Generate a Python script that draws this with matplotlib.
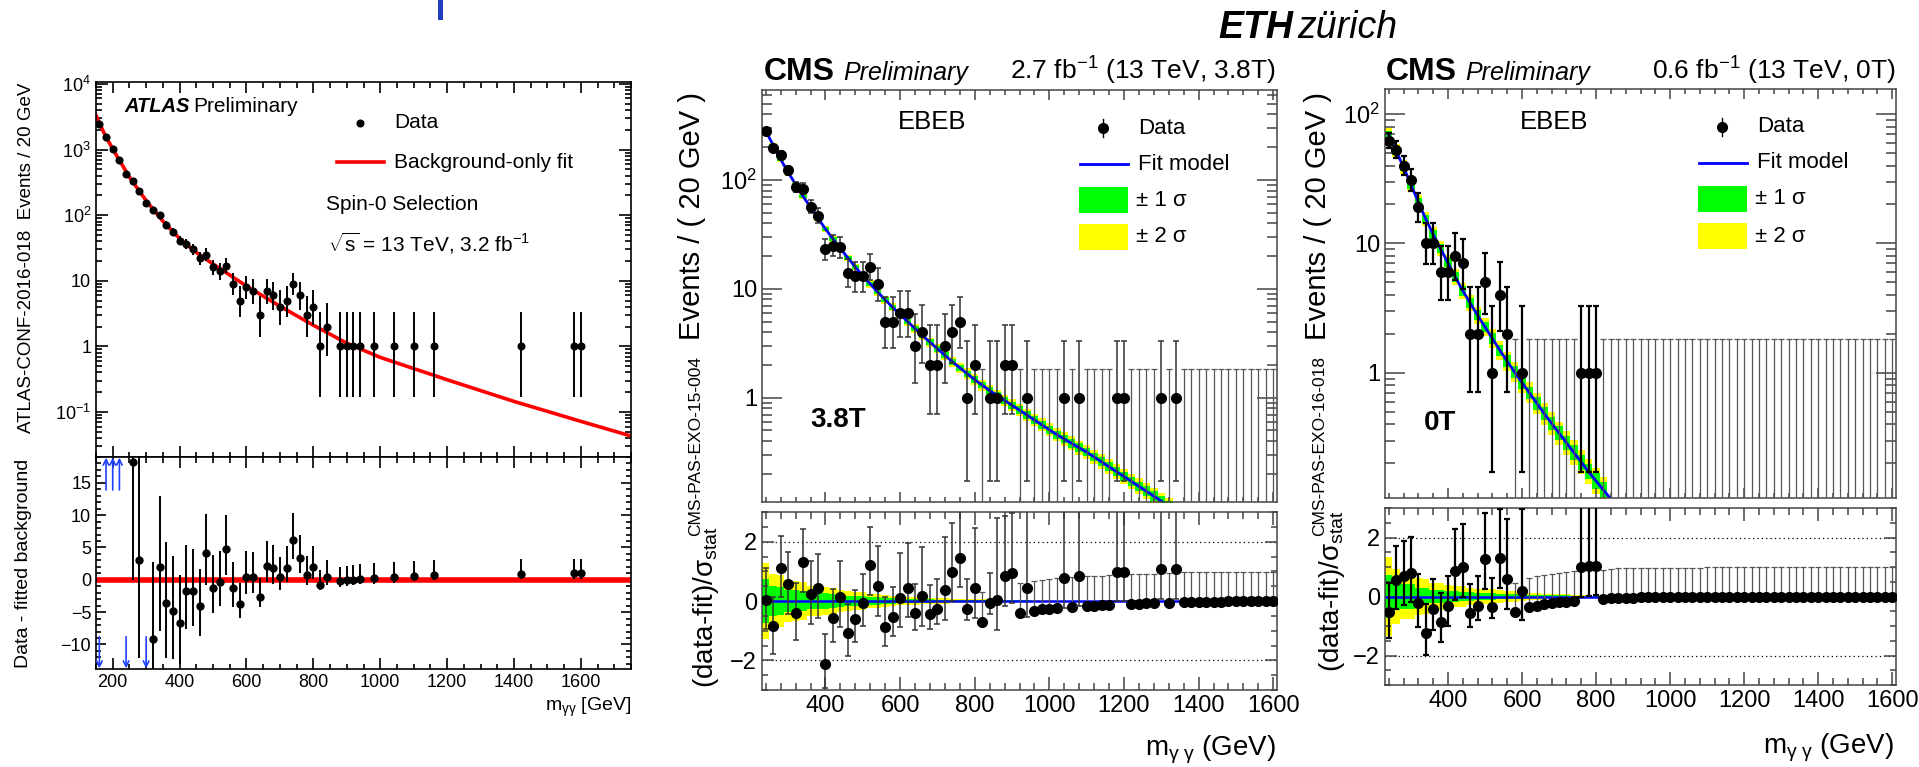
import numpy as np
import matplotlib
matplotlib.use('Agg')
import matplotlib.pyplot as plt
from matplotlib.ticker import MultipleLocator, LogLocator, FuncFormatter, NullFormatter
from matplotlib.patches import Rectangle

W, H = 1919, 767

plt.rcParams['font.family'] = ['Liberation Sans', 'DejaVu Sans']
plt.rcParams['mathtext.fontset'] = 'custom'
plt.rcParams['mathtext.rm'] = 'Liberation Sans'
plt.rcParams['mathtext.it'] = 'Liberation Sans:italic'
plt.rcParams['mathtext.bf'] = 'Liberation Sans:bold'
plt.rcParams['mathtext.default'] = 'regular'

YEL, GRN, BLUE, RED = '#ffff00', '#00ff00', '#0000ff', '#ff0000'

# ---------------- ATLAS (left) ----------------
atlas_x = [160, 180, 200, 220, 240, 260, 280, 300, 320, 340, 360, 380, 400, 420, 440,
           460, 480, 500, 520, 540, 560, 580, 600, 620, 640, 660, 680, 700, 720, 740,
           760, 780, 800, 820, 840, 880, 900, 920, 940, 980, 1040, 1100, 1160, 1420,
           1580, 1600]
atlas_n = [2450, 1540, 1020, 700, 425, 330, 230, 155, 118, 99, 72, 55, 41, 36, 30,
           22, 25, 16, 14, 17, 9, 5, 8, 7, 3, 7, 6, 4, 5, 9,
           6, 3, 4, 1, 2, 1, 1, 1, 1, 1, 1, 1, 1, 1,
           1, 1]
atlas_fit_x = [150, 175, 200, 250, 300, 350, 400, 450, 500, 600, 700, 800, 900, 1000,
               1200, 1400, 1600, 1750]
atlas_fit_y = [3310, 1740, 1020, 380, 166, 81, 44, 27, 18, 8.3, 4.1, 2.1, 1.12, 0.68,
               0.31, 0.145, 0.072, 0.043]
atlas_resid_x = [260, 280, 320, 340, 360, 380, 400, 420, 440, 460, 480, 500, 520, 540,
                 560, 580, 600, 620, 640, 660, 680, 700, 720, 740, 760, 780, 800, 820,
                 840, 880, 900, 920, 940, 980, 1040, 1100, 1160, 1420, 1580, 1600]
atlas_resid = [18.2, 3.0, -9.1, 2.0, -3.6, -4.8, -6.7, -1.7, -1.7, -4.1, 4.1, -1.2, -0.4, 4.8,
               -1.3, -3.8, 0.5, 0.5, -2.6, 2.2, 1.8, 0.4, 1.8, 6.2, 3.4, 0.8, 2.0, -0.8,
               0.5, -0.25, -0.1, 0.0, 0.15, 0.25, 0.4, 0.6, 0.8, 0.9, 1.0, 1.0]
atlas_up = [180, 200, 220]
atlas_down = [160, 240, 300]

# ---------------- CMS (bins of 20 GeV, 230-1610) ----------------
cms_x = np.arange(240, 1601, 20)

n38 = [283, 195, 170, 123, 86, 83, 57, 47, 23, 25,
       24, 14, 13, 13, 16, 11, 5, 5, 6, 6,
       3, 4, 2, 2, 3, 4, 5, 1, 2, 0,
       1, 1, 2, 2, 0, 1, 0, 0, 0, 0,
       1, 0, 1, 0, 0, 0, 0, 1, 1, 0,
       0, 0, 0, 1, 0, 1, 0, 0, 0, 0,
       0, 0, 0, 0, 0, 0, 0, 0, 0]
pull38 = [0.05, -0.85, 1.12, 0.56, -0.40, 1.31, 0.22, 0.43, -2.12, -0.58,
          0.12, -1.09, -0.62, -0.08, 1.21, 0.50, -0.87, -0.53, 0.11, 0.45,
          -0.42, 0.17, -0.45, -0.27, 0.37, 0.99, 1.46, -0.27, 0.43, -0.70,
          -0.06, 0.03, 0.84, 0.93, -0.39, 0.45, -0.34, -0.28, -0.26, -0.22,
          0.76, -0.19, 0.84, -0.17, -0.16, -0.15, -0.13, 0.99, 0.99, -0.10,
          -0.09, -0.08, -0.08, 1.07, -0.06, 1.08, -0.03, -0.03, -0.02, -0.02,
          -0.02, -0.02, -0.01, -0.01, -0.01, -0.01, -0.01, -0.01, -0.01]
# fit model, log10(events) per bin, 240-1320 GeV
fit38_log = [2.45, 2.32, 2.19, 2.07, 1.96, 1.85, 1.75, 1.65, 1.55, 1.46,
             1.37, 1.285, 1.20, 1.12, 1.045, 0.97, 0.90, 0.83, 0.765, 0.70,
             0.635, 0.57, 0.51, 0.45, 0.39, 0.33, 0.275, 0.22, 0.165, 0.115,
             0.065, 0.02, -0.025, -0.07, -0.115, -0.16, -0.205, -0.25, -0.295, -0.34,
             -0.38, -0.42, -0.46, -0.50, -0.545, -0.59, -0.635, -0.68, -0.725, -0.77,
             -0.815, -0.86, -0.905, -0.95, -0.995]
# band half widths in decades (main panel)
band38_2s = [0.020, 0.020, 0.021, 0.022, 0.023, 0.024, 0.025, 0.026, 0.027, 0.028,
             0.029, 0.030, 0.031, 0.032, 0.033, 0.034, 0.035, 0.036, 0.037, 0.038,
             0.040, 0.041, 0.042, 0.043, 0.044, 0.045, 0.046, 0.048, 0.049, 0.050,
             0.052, 0.053, 0.054, 0.055, 0.056, 0.058, 0.059, 0.060, 0.061, 0.062,
             0.063, 0.064, 0.065, 0.066, 0.067, 0.068, 0.069, 0.070, 0.071, 0.072,
             0.073, 0.074, 0.075, 0.076, 0.077]
band38_1s = [0.012, 0.012, 0.013, 0.013, 0.014, 0.014, 0.015, 0.016, 0.016, 0.017,
             0.018, 0.018, 0.019, 0.019, 0.020, 0.020, 0.021, 0.022, 0.022, 0.023,
             0.024, 0.025, 0.025, 0.026, 0.027, 0.027, 0.028, 0.029, 0.030, 0.030,
             0.031, 0.032, 0.033, 0.033, 0.034, 0.035, 0.036, 0.036, 0.037, 0.037,
             0.038, 0.039, 0.039, 0.040, 0.040, 0.041, 0.042, 0.042, 0.043, 0.043,
             0.044, 0.045, 0.045, 0.046, 0.046]
# band half widths in the pull panel
pband38_2s = [1.29, 0.92, 0.88, 0.70, 0.67, 0.64, 0.52, 0.50, 0.48, 0.45,
              0.36, 0.34, 0.32, 0.30, 0.24, 0.22, 0.20, 0.18, 0.14, 0.13,
              0.12, 0.11, 0.10, 0.09, 0.085, 0.08, 0.075, 0.07, 0.065, 0.06,
              0.055, 0.05, 0.045, 0.04, 0.035, 0.03, 0.025, 0.02, 0.02]
pband38_1s = [0.73, 0.50, 0.48, 0.38, 0.36, 0.34, 0.28, 0.27, 0.26, 0.24,
              0.19, 0.18, 0.17, 0.16, 0.13, 0.12, 0.11, 0.10, 0.08, 0.07,
              0.065, 0.06, 0.055, 0.05, 0.045, 0.045, 0.04, 0.04, 0.035, 0.035,
              0.03, 0.03, 0.025, 0.025, 0.02, 0.02, 0.015, 0.012, 0.01]

n0 = [62, 53, 40, 31, 19, 10, 10, 6, 6, 8,
      7, 2, 2, 5, 1, 4, 2, 0, 1, 0,
      0, 0, 0, 0, 0, 0, 1, 1, 1, 0,
      0, 0, 0, 0, 0, 0, 0, 0, 0, 0,
      0, 0, 0, 0, 0, 0, 0, 0, 0, 0,
      0, 0, 0, 0, 0, 0, 0, 0, 0, 0,
      0, 0, 0, 0, 0, 0, 0, 0, 0]
pull0 = [-0.54, 0.56, 0.70, 0.81, -0.23, -1.24, -0.42, -0.88, -0.32, 0.87,
         0.99, -0.56, -0.32, 1.27, -0.36, 1.30, 0.59, -0.54, 0.20, -0.36,
         -0.32, -0.26, -0.23, -0.19, -0.17, -0.14, 0.99, 1.02, 1.04, -0.09,
         -0.06, -0.05, -0.04, -0.04, -0.03, -0.03, -0.03, -0.02, -0.02, -0.02,
         -0.02, -0.02, -0.02, -0.01, -0.01, -0.01, -0.01, -0.01, -0.01, -0.01,
         -0.01, -0.01, -0.01, -0.01, -0.01, -0.01, -0.01, -0.01, -0.01, -0.01,
         -0.01, -0.01, -0.01, -0.01, -0.01, -0.01, -0.01, -0.01, -0.01]
fit0_log = [1.84, 1.715, 1.59, 1.455, 1.32, 1.19, 1.07, 0.96, 0.85, 0.74,
            0.635, 0.54, 0.445, 0.355, 0.265, 0.175, 0.09, 0.005, -0.075, -0.155,
            -0.235, -0.315, -0.39, -0.465, -0.54, -0.615, -0.69, -0.765, -0.835, -0.905,
            -0.975]
band0_2s = [0.050, 0.050, 0.051, 0.052, 0.053, 0.054, 0.055, 0.057, 0.059, 0.061,
            0.063, 0.065, 0.067, 0.069, 0.071, 0.073, 0.075, 0.077, 0.079, 0.081,
            0.083, 0.085, 0.087, 0.089, 0.091, 0.093, 0.095, 0.097, 0.099, 0.100]
band0_1s = [0.030, 0.030, 0.031, 0.031, 0.032, 0.033, 0.033, 0.034, 0.035, 0.037,
            0.038, 0.039, 0.040, 0.041, 0.043, 0.044, 0.045, 0.046, 0.047, 0.049,
            0.050, 0.051, 0.052, 0.053, 0.055, 0.056, 0.057, 0.058, 0.059, 0.060]
pband0_2s = [1.33, 0.93, 0.76, 0.76, 0.62, 0.59, 0.47, 0.45, 0.38, 0.36,
             0.34, 0.29, 0.27, 0.26, 0.24, 0.22, 0.20, 0.17, 0.15, 0.13,
             0.12, 0.10, 0.09, 0.08, 0.07, 0.06, 0.05, 0.04, 0.03, 0.02]
pband0_1s = [0.73, 0.47, 0.42, 0.42, 0.30, 0.30, 0.23, 0.23, 0.17, 0.17,
             0.16, 0.14, 0.13, 0.12, 0.11, 0.10, 0.09, 0.08, 0.07, 0.065,
             0.06, 0.05, 0.045, 0.04, 0.035, 0.03, 0.025, 0.02, 0.015, 0.01]


def pois_err(n):
    # approximate Garwood (68%) intervals
    n = np.asarray(n, dtype=float)
    m = np.maximum(n, 1.0)
    lo = np.where(n > 0, n - n * (1 - 1 / (9 * m) - 1 / (3 * np.sqrt(m))) ** 3, 0.0)
    hi = (n + 1) * (1 - 1 / (9 * (n + 1)) + 1 / (3 * np.sqrt(n + 1))) ** 3 - n
    return lo, hi


def log_fmt(v, pos):
    e = int(round(np.log10(v)))
    if e == 0:
        return '1'
    if e == 1:
        return '10'
    return r'$10^{%d}$' % e


def pt(px):
    return px * 0.72


def style(ax, xmaj, xmin, ymaj, ymin, lsize, lw=1.1, col='black'):
    ax.tick_params(which='both', direction='in', top=True, right=True, width=lw,
                   color=col, labelsize=lsize)
    ax.tick_params(axis='x', which='major', length=pt(xmaj))
    ax.tick_params(axis='x', which='minor', length=pt(xmin))
    ax.tick_params(axis='y', which='major', length=pt(ymaj))
    ax.tick_params(axis='y', which='minor', length=pt(ymin))
    for s in ax.spines.values():
        s.set_linewidth(lw)
        s.set_color(col)


def log_axis(ax):
    ax.set_yscale('log')
    ax.yaxis.set_major_locator(LogLocator(base=10, subs=(1.0,), numticks=20))
    ax.yaxis.set_minor_locator(LogLocator(base=10, subs=np.arange(2, 10), numticks=200))
    ax.yaxis.set_major_formatter(FuncFormatter(log_fmt))
    ax.yaxis.set_minor_formatter(NullFormatter())


def box(l, t, r, b):
    return [l / W, 1 - b / H, (r - l) / W, (b - t) / H]


fig = plt.figure(figsize=(W / 100, H / 100), dpi=100)
fig.patch.set_facecolor('white')

axA = fig.add_axes(box(96, 82, 631, 457))
axAr = fig.add_axes(box(96, 457, 631, 669))
ax1 = fig.add_axes(box(762, 90, 1277, 502))
ax1r = fig.add_axes(box(762, 512, 1277, 690))
ax2 = fig.add_axes(box(1385, 89, 1896, 498))
ax2r = fig.add_axes(box(1385, 508, 1896, 685))

# ---- ATLAS main
an = np.array(atlas_n, float)
alo, ahi = pois_err(an)
axA.plot(atlas_fit_x, atlas_fit_y, color=RED, lw=2.6, zorder=2)
axA.errorbar(atlas_x, an, yerr=[alo, ahi], fmt='o', ms=4.8, color='black',
             elinewidth=1.4, capsize=0, zorder=3)
log_axis(axA)
axA.set_ylim(0.0206, 10700)
axA.set_xlim(150, 1750)
axA.xaxis.set_major_locator(MultipleLocator(200))
axA.xaxis.set_minor_locator(MultipleLocator(50))
axA.tick_params(labelbottom=False)
style(axA, 11, 5.5, 12, 6, 13, lw=1.2)

# ---- ATLAS residuals
axAr.axhline(0, color=RED, lw=4, zorder=2)
res_n = [atlas_n[atlas_x.index(v)] for v in atlas_resid_x]
rlo, rhi = pois_err(res_n)
axAr.errorbar(atlas_resid_x, atlas_resid, yerr=[rlo, rhi], fmt='o', ms=5, color='black',
              elinewidth=1.4, capsize=0, zorder=3)
for xv in atlas_up:
    axAr.annotate('', xy=(xv, 18.9), xytext=(xv, 13.9),
                  arrowprops=dict(arrowstyle='->', color='#2040ff', lw=1.2, shrinkA=0, shrinkB=0))
for xv in atlas_down:
    axAr.annotate('', xy=(xv, -13.7), xytext=(xv, -8.8),
                  arrowprops=dict(arrowstyle='->', color='#2040ff', lw=1.2, shrinkA=0, shrinkB=0))
axAr.set_xlim(150, 1750)
axAr.set_ylim(-13.8, 19.0)
axAr.xaxis.set_major_locator(MultipleLocator(200))
axAr.xaxis.set_minor_locator(MultipleLocator(50))
axAr.yaxis.set_major_locator(MultipleLocator(5))
axAr.yaxis.set_minor_locator(MultipleLocator(1))
style(axAr, 11, 5.5, 10, 5, 13, lw=1.2)


# ---- CMS panels
def cms_panel(ax, axr, n, pull, fit_log, bm2, bm1, bp2, bp1, dcol, dlw, ylim):
    n = np.array(n, float)
    pull = np.array(pull, float)
    lo, hi = pois_err(n)
    st = lambda a: np.append(a, a[-1])

    nb = len(bm2)
    xc = cms_x[:nb]
    f = 10 ** np.array(fit_log[:nb])
    edges = np.append(xc - 10, xc[-1] + 10)
    w2 = 10 ** np.array(bm2)
    w1 = 10 ** np.array(bm1)
    ax.fill_between(edges, st(f / w2), st(f * w2), step='post', color=YEL, lw=0, zorder=1)
    ax.fill_between(edges, st(f / w1), st(f * w1), step='post', color=GRN, lw=0, zorder=1)
    ax.plot(cms_x[:len(fit_log)], 10 ** np.array(fit_log), color=BLUE, lw=2, zorder=2)

    has = n > 0
    nz = int((~has).sum())
    ax.errorbar(cms_x[~has], np.full(nz, 1e-3), yerr=[np.zeros(nz), hi[~has]], fmt='none',
                ecolor='#555555', elinewidth=0.9, capsize=2.2, capthick=0.9, zorder=3)
    ax.errorbar(cms_x[has], n[has], yerr=[lo[has], hi[has]], fmt='o', ms=7, mfc='black',
                mec='black', ecolor=dcol, elinewidth=dlw, capsize=2.2, capthick=dlw, zorder=4)
    log_axis(ax)
    ax.set_ylim(*ylim)
    ax.set_xlim(230, 1610)
    ax.xaxis.set_major_locator(MultipleLocator(200))
    ax.xaxis.set_minor_locator(MultipleLocator(40))
    ax.tick_params(labelbottom=False)
    style(ax, 10, 5, 20, 10, 17, lw=1.1, col='#444444')

    # pulls
    npb = len(bp2)
    xp = cms_x[:npb]
    edges = np.append(xp - 10, xp[-1] + 10)
    axr.fill_between(edges, -st(np.array(bp2)), st(np.array(bp2)), step='post', color=YEL, lw=0, zorder=1)
    axr.fill_between(edges, -st(np.array(bp1)), st(np.array(bp1)), step='post', color=GRN, lw=0, zorder=1)
    axr.axhline(0, color=BLUE, lw=1.8, zorder=2)
    for yv in (-2, 2):
        axr.axhline(yv, color='black', lw=0.9, ls=(0, (1, 2.5)), zorder=1)
    up = np.where(pull >= 0, hi / np.maximum(lo, 1e-9), 1.0)
    dn = np.where(pull >= 0, 1.0, lo / hi)
    axr.errorbar(cms_x[~has], pull[~has], yerr=[dn[~has], up[~has]], fmt='o', ms=7, color='black',
                 ecolor='#555555', elinewidth=0.9, capsize=2.2, capthick=0.9, zorder=3)
    axr.errorbar(cms_x[has], pull[has], yerr=[dn[has], up[has]], fmt='o', ms=7, color='black',
                 ecolor=dcol, elinewidth=dlw, capsize=2.2, capthick=dlw, zorder=4)
    axr.set_xlim(230, 1610)
    axr.set_ylim(-3, 3)
    axr.xaxis.set_major_locator(MultipleLocator(200))
    axr.xaxis.set_minor_locator(MultipleLocator(40))
    axr.yaxis.set_major_locator(MultipleLocator(2))
    axr.yaxis.set_minor_locator(MultipleLocator(0.5))
    style(axr, 13, 7, 12, 6, 17, lw=1.1, col='#444444')


cms_panel(ax1, ax1r, n38, pull38, fit38_log, band38_2s, band38_1s, pband38_2s, pband38_1s,
          '#333333', 1.1, (0.11, 671))
cms_panel(ax2, ax2r, n0, pull0, fit0_log, band0_2s, band0_1s, pband0_2s, pband0_1s,
          'black', 1.6, (0.108, 156))

# ---- texts and legends (pixel overlay)
ov = fig.add_axes([0, 0, 1, 1], zorder=10)
ov.set_xlim(0, W)
ov.set_ylim(H, 0)
ov.axis('off')

ov.add_patch(Rectangle((438, 0), 5, 20, color='#1f3fbf', lw=0))
ov.text(1218, 38, 'ETH', fontsize=27, fontweight='bold', style='italic', va='baseline')
ov.text(1297, 38, 'zürich', fontsize=27, style='italic', va='baseline', color='black')

# ATLAS
ov.text(124, 107, 'ATLAS', fontsize=14.5, fontweight='bold', style='italic', va='center')
ov.text(193, 107, 'Preliminary', fontsize=15, va='center')
ov.plot([360], [123], 'o', ms=4.8, color='black')
ov.text(394, 123, 'Data', fontsize=15, va='center')
ov.plot([337, 384], [162, 162], color=RED, lw=2.6)
ov.text(394, 162, 'Background-only fit', fontsize=15, va='center')
ov.text(326, 205, 'Spin-0 Selection', fontsize=15, va='center')
ov.text(328, 243, r'$\sqrt{s}$ = 13 TeV, 3.2 fb$^{-1}$', fontsize=15, va='center')
ov.text(27, 258, 'ATLAS-CONF-2016-018  Events / 20 GeV', fontsize=13.5, rotation=90,
        ha='center', va='center')
ov.text(24, 563, 'Data - fitted background', fontsize=14, rotation=90, ha='center', va='center')
ov.text(631, 707, r'm$_{\gamma\gamma}$ [GeV]', fontsize=14, ha='right', va='center')

# CMS panels
for (x0, x1, lumi, tag, tagx, tagy, pas, lx, lt, ylx, pasx, rlx, rly, ebx, leg) in [
        (764, 1276, r'2.7 fb$^{-1}$ (13 TeV, 3.8T)', '3.8T', 810, 420, 'CMS-PAS-EXO-15-004',
         1276, 750, 692, 696, 706, 688, 932, (1103, 1079, 1138, 128)),
        (1386, 1896, r'0.6 fb$^{-1}$ (13 TeV, 0T)', '0T', 1424, 423, 'CMS-PAS-EXO-16-018',
         1894, 748, 1318, 1320, 1332, 672, 1554, (1722, 1698, 1757, 127))]:
    ov.text(x0, 80, 'CMS', fontsize=23, fontweight='bold', va='baseline')
    ov.text(x0 + 79, 80, 'Preliminary', fontsize=18, style='italic', va='baseline')
    ov.text(x1, 80, lumi, fontsize=19, ha='right', va='baseline')
    ov.text(ebx, 122, 'EBEB', fontsize=18.5, ha='center', va='center')
    ov.text(tagx, tagy, tag, fontsize=20, fontweight='bold', va='center')
    ov.text(ylx, 92, 'Events / ( 20 GeV )', fontsize=21, rotation=90, ha='center', va='top')
    ov.text(pasx, 446, pas, fontsize=12.5, rotation=90, ha='center', va='center')
    ov.text(rlx, rly, r'(data-fit)/$\sigma_{stat}$', fontsize=20, rotation=90,
            ha='center', va='bottom')
    ov.text(lx, lt, r'm$_{\gamma\ \gamma}$ (GeV)', fontsize=20, ha='right', va='center')
    mx, bx, tx, ty = leg
    ov.plot([mx, mx], [ty - 9, ty + 9], color='black', lw=1)
    ov.plot([mx], [ty], 'o', ms=7, color='black')
    ov.plot([bx + 1, bx + 49], [ty + 36, ty + 36], color=BLUE, lw=2)
    ov.add_patch(Rectangle((bx, ty + 59), 49, 26, color=GRN, lw=0))
    ov.add_patch(Rectangle((bx, ty + 96), 49, 26, color=YEL, lw=0))
    ov.text(tx, ty, 'Data', fontsize=16, va='center')
    ov.text(tx, ty + 36, 'Fit model', fontsize=16, va='center')
    ov.text(tx - 2, ty + 72, '± 1 σ', fontsize=16, va='center')
    ov.text(tx - 2, ty + 109, '± 2 σ', fontsize=16, va='center')

fig.savefig('out.png', dpi=100)
plt.close(fig)
